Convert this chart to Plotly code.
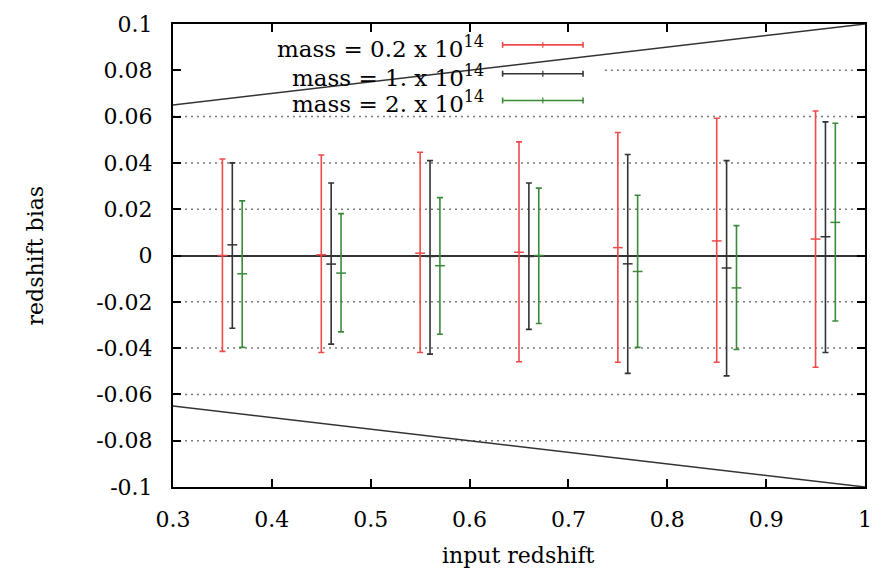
import plotly.graph_objects as go

# ---- data ----
z_red = [0.35, 0.45, 0.55, 0.65, 0.75, 0.85, 0.95]
z_black = [0.36, 0.46, 0.56, 0.66, 0.76, 0.86, 0.96]
z_green = [0.37, 0.47, 0.57, 0.67, 0.77, 0.87, 0.97]

red_mid = [0.0, 0.0003, 0.001, 0.0014, 0.0034, 0.0063, 0.0071]
red_hi = [0.0417, 0.0434, 0.0446, 0.0491, 0.0531, 0.0593, 0.0624]
red_lo = [-0.0414, -0.0419, -0.0419, -0.0459, -0.0461, -0.0461, -0.0483]

black_mid = [0.0046, -0.0037, -0.0004, -0.0004, -0.0036, -0.0054, 0.0081]
black_hi = [0.0400, 0.0313, 0.0410, 0.0313, 0.0436, 0.0410, 0.0577]
black_lo = [-0.0314, -0.0383, -0.0426, -0.0319, -0.0509, -0.0520, -0.0419]

green_mid = [-0.0079, -0.0076, -0.0044, 0.0, -0.0069, -0.0140, 0.0143]
green_hi = [0.0236, 0.0181, 0.0250, 0.0291, 0.0260, 0.0129, 0.0571]
green_lo = [-0.0397, -0.0330, -0.0340, -0.0294, -0.0397, -0.0406, -0.0283]

bound_x = [0.3, 1.0]
bound_upper = [0.065, 0.1]
bound_lower = [-0.065, -0.1]

y_ticks = [-0.1, -0.08, -0.06, -0.04, -0.02, 0, 0.02, 0.04, 0.06, 0.08, 0.1]
y_ticktext = ["-0.1", "-0.08", "-0.06", "-0.04", "-0.02", "0", "0.02", "0.04", "0.06", "0.08", "0.1"]
x_ticks = [0.3, 0.4, 0.5, 0.6, 0.7, 0.8, 0.9, 1.0]
x_ticktext = ["0.3", "0.4", "0.5", "0.6", "0.7", "0.8", "0.9", "1"]

labels = ["mass = 0.2 x 10<sup>14</sup>", "mass = 1. x 10<sup>14</sup>", "mass = 2. x 10<sup>14</sup>"]
colors = ["#ee4a4a", "#333333", "#3a8a3a"]

FONT = "DejaVu Serif"

fig = go.Figure()

for zz, mid, hi, lo, col in [
    (z_red, red_mid, red_hi, red_lo, colors[0]),
    (z_black, black_mid, black_hi, black_lo, colors[1]),
    (z_green, green_mid, green_hi, green_lo, colors[2]),
]:
    fig.add_trace(go.Scatter(
        x=zz, y=mid, mode="markers",
        marker=dict(symbol="line-ew", size=7, color=col, line=dict(color=col, width=1.5)),
        error_y=dict(type="data", symmetric=False,
                     array=[h - m for h, m in zip(hi, mid)],
                     arrayminus=[m - l for m, l in zip(mid, lo)],
                     color=col, thickness=1.6, width=3),
        showlegend=False,
    ))

for by in (bound_upper, bound_lower):
    fig.add_trace(go.Scatter(x=bound_x, y=by, mode="lines",
                             line=dict(color="#333333", width=1.5), showlegend=False))

# ---- pixel helpers for decorations ----
L = 173.0
W = 870.0 - 173.0
H = 487.0 - 21.0

def px(xp):
    return (xp - L) / W

def py(yp):
    return (487.0 - yp) / H

shapes = []
# dotted horizontal grid (the key box hides the 0.08 one on its left part)
for yv in y_ticks:
    if abs(yv) > 0.099 or yv == 0:
        continue
    x0 = px(608) if abs(yv - 0.08) < 1e-9 else 0
    shapes.append(dict(type="line", xref="x domain", yref="y", x0=x0, x1=1, y0=yv, y1=yv,
                       line=dict(color="#7a7a7a", width=1.5, dash="2px,4px"), layer="below"))

annotations = []
rows_y = [42, 71, 98]
for lab, col, ry in zip(labels, colors, rows_y):
    annotations.append(dict(text=lab, xref="paper", yref="paper", x=px(488), y=py(ry) - 0.004,
                            xanchor="right", yanchor="middle", showarrow=False,
                            font=dict(family=FONT, size=23, color="black")))
    shapes.append(dict(type="line", xref="paper", yref="paper", x0=px(505), x1=px(586),
                       y0=py(ry), y1=py(ry), line=dict(color=col, width=1.6)))
    for xe in (505, 586):
        shapes.append(dict(type="line", xref="paper", yref="paper", x0=px(xe), x1=px(xe),
                           y0=py(ry - 3), y1=py(ry + 3), line=dict(color=col, width=1.6)))
    shapes.append(dict(type="line", xref="paper", yref="paper", x0=px(545.5), x1=px(545.5),
                       y0=py(ry - 3), y1=py(ry + 3), line=dict(color=col, width=1.2)))

annotations.append(dict(text="redshift bias", xref="paper", yref="paper", x=px(35), y=0.5,
                        textangle=-90, xanchor="center", yanchor="middle", showarrow=False,
                        font=dict(family=FONT, size=22, color="black")))
annotations.append(dict(text="input redshift", xref="paper", yref="paper", x=px(521), y=py(556),
                        xanchor="center", yanchor="middle", showarrow=False,
                        font=dict(family=FONT, size=22, color="black")))

fig.update_layout(
    width=884, height=573,
    margin=dict(l=173, r=14, t=21, b=86),
    paper_bgcolor="white", plot_bgcolor="white",
    font=dict(family=FONT, size=22, color="black"),
    shapes=shapes, annotations=annotations,
    showlegend=False,
)
fig.update_xaxes(
    range=[0.3, 1.0], tickvals=x_ticks, ticktext=x_ticktext,
    ticks="inside", ticklen=8, tickwidth=1.5, tickcolor="black",
    showline=True, linecolor="black", linewidth=2, mirror="allticks",
    showgrid=False, zeroline=False, ticklabelstandoff=12,
)
fig.update_yaxes(
    range=[-0.1, 0.1], tickvals=y_ticks, ticktext=y_ticktext,
    ticks="inside", ticklen=8, tickwidth=1.5, tickcolor="black",
    showline=True, linecolor="black", linewidth=2, mirror="allticks",
    showgrid=False,
    zeroline=True, zerolinecolor="#333333", zerolinewidth=1.5,
    ticklabelstandoff=14,
)

fig.write_html("out.html")
